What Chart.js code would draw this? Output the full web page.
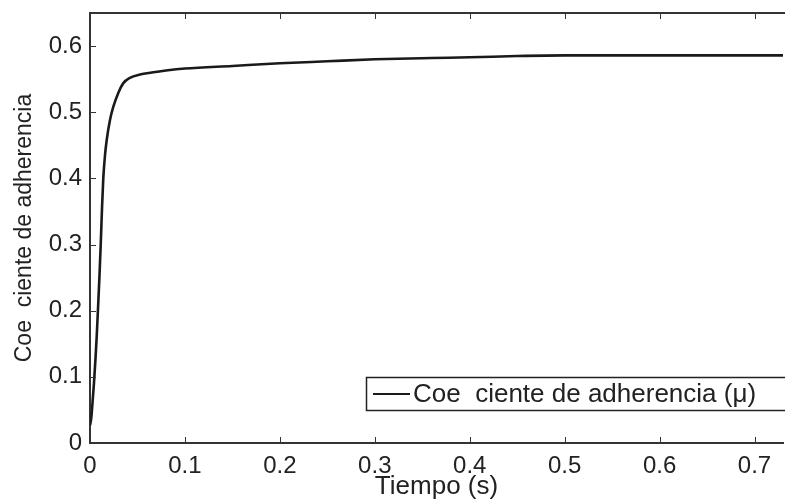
<!DOCTYPE html>
<html>
<head>
<meta charset="utf-8">
<script src="https://cdn.jsdelivr.net/npm/chart.js@4/dist/chart.umd.min.js"></script>
<style>
  html, body { margin: 0; padding: 0; background: #fff; }
  #wrap { width: 785px; height: 502px; }
</style>
</head>
<body>
<div id="wrap"><canvas id="myChart" width="785" height="502"></canvas></div>
<script>
const tiempo = [0, 0.0012, 0.0025, 0.0042, 0.0058, 0.0071, 0.0085, 0.0099, 0.0113, 0.0127, 0.014, 0.0158, 0.0176, 0.021, 0.0245, 0.03, 0.0351, 0.042, 0.0526, 0.065, 0.08, 0.1, 0.15, 0.2, 0.25, 0.3, 0.36, 0.4, 0.45, 0.5, 0.55, 0.6, 0.65, 0.7, 0.73];
const mu = [0.027, 0.036, 0.058, 0.091, 0.128, 0.162, 0.205, 0.25, 0.300, 0.357, 0.400, 0.435, 0.458, 0.488, 0.508, 0.530, 0.544, 0.552, 0.557, 0.560, 0.563, 0.566, 0.570, 0.574, 0.577, 0.580, 0.582, 0.583, 0.585, 0.586, 0.586, 0.586, 0.586, 0.586, 0.586];
const xTitle = "Tiempo (s)";
const yTitle = "Coe  ciente de adherencia";
const serieLabel = "Coe  ciente de adherencia (\u03bc)";

const fuente = "'Liberation Sans', Arial, Helvetica, sans-serif";
const ejeColor = "#333";

const onlyTenths = (scale) => {
    scale.ticks = scale.ticks.filter(t => Math.abs(t.value * 10 - Math.round(t.value * 10)) < 1e-6);
};

// inward ticks, top border, and the boxed legend inside the plot
const matlabLook = {
    id: "matlabLook",
    afterDraw(chart) {
        const c = chart.ctx;
        const a = chart.chartArea;
        const x = chart.scales.x, y = chart.scales.y;
        c.save();
        c.strokeStyle = ejeColor;
        c.lineWidth = 1;
        x.ticks.forEach(t => {
            const px = Math.round(x.getPixelForValue(t.value)) + 0.5;
            c.beginPath();
            c.moveTo(px, a.bottom); c.lineTo(px, a.bottom - 6);
            c.moveTo(px, a.top); c.lineTo(px, a.top + 6);
            c.stroke();
        });
        y.ticks.forEach(t => {
            const py = Math.round(y.getPixelForValue(t.value)) + 0.5;
            c.beginPath();
            c.moveTo(a.left, py); c.lineTo(a.left + 6, py);
            c.stroke();
        });
        c.lineWidth = 2;
        c.beginPath();
        c.moveTo(a.left, a.top); c.lineTo(chart.width, a.top);
        c.stroke();

        // legend
        const bx = 366.5, by = 377.5, bw = 430, bh = 33;
        c.fillStyle = "#fff";
        c.fillRect(bx, by, bw, bh);
        c.lineWidth = 1.5;
        c.strokeStyle = "#222";
        c.strokeRect(bx, by, bw, bh);
        c.strokeStyle = "#1a1a1a";
        c.lineWidth = 2;
        c.beginPath();
        c.moveTo(373, by + bh / 2); c.lineTo(410, by + bh / 2);
        c.stroke();
        c.fillStyle = "#222";
        c.font = "26px " + fuente;
        c.textBaseline = "middle";
        c.textAlign = "left";
        c.fillText(chart.data.datasets[0].label, 413, by + bh / 2 + 1);
        c.restore();
    }
};

const ctx = document.getElementById("myChart");

new Chart(ctx, {
    type: "line",
    data: {
        datasets: [
            {
                label: serieLabel,
                data: tiempo.map((t, i) => ({ x: t, y: mu[i] })),
                borderColor: "#1a1a1a",
                borderWidth: 2.6,
                pointRadius: 0,
                fill: false,
                cubicInterpolationMode: "monotone",
            },
        ],
    },
    options: {
        responsive: false,
        animation: false,
        layout: { padding: { top: 13, right: 2, left: 0, bottom: 0 } },
        plugins: {
            legend: { display: false },
            tooltip: { enabled: false },
        },
        scales: {
            x: {
                type: "linear",
                min: 0,
                max: 0.73,
                afterBuildTicks: onlyTenths,
                afterFit: (s) => { s.height = 59; s.paddingLeft = 0; s.paddingRight = 0; },
                grid: { display: false, drawTicks: false },
                border: { display: true, color: ejeColor, width: 2 },
                ticks: { stepSize: 0.1, includeBounds: false, color: "#222", padding: 9, maxRotation: 0, font: { family: fuente, size: 24 } },
                title: { display: true, text: xTitle, color: "#222", padding: { top: 0, bottom: 0 }, font: { family: fuente, size: 26 } },
            },
            y: {
                min: 0,
                max: 0.65,
                afterBuildTicks: onlyTenths,
                afterFit: (s) => { s.width = 90; s.paddingTop = 0; s.paddingBottom = 0; },
                grid: { display: false, drawTicks: false },
                border: { display: true, color: ejeColor, width: 2 },
                ticks: { stepSize: 0.1, includeBounds: false, color: "#222", padding: 8, font: { family: fuente, size: 24 } },
                title: { display: true, text: yTitle, color: "#222", padding: { top: 11, bottom: 0 }, font: { family: fuente, size: 23 } },
            },
        },
    },
    plugins: [matlabLook],
});
</script>
</body>
</html>
